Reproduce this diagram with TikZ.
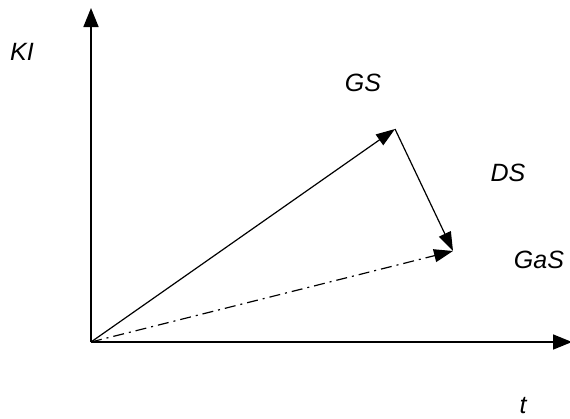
\documentclass[tikz,border=0pt]{standalone}
\usepackage{fontspec}
\setmainfont{Liberation Sans}
\usetikzlibrary{arrows.meta}
\tikzset{
  axis/.style={line width=1.6pt, -{Triangle[length=19pt, width=15pt]}},
  vec/.style={line width=1.2pt, -{Triangle[length=19pt, width=13pt]}},
  dvec/.style={vec, dash pattern=on 11pt off 5pt on 2pt off 5pt},
  lbl/.style={font=\fontsize{25}{30}\selectfont\itshape, inner sep=0pt},
}
\begin{document}
\begin{tikzpicture}[x=1pt, y=-1pt]
  \useasboundingbox (0,0) rectangle (570,418);
  % axes
  \coordinate (O) at (91,342);
  \coordinate (ytop) at (91,8);
  \coordinate (xend) at (572,342);
  \draw[axis] (O) -- (ytop);
  \draw[axis] (O) -- (xend);

  % vectors
  \coordinate (gs) at (395,129);
  \coordinate (gas) at (453,251);
  \draw[vec] (O) -- (gs);
  \draw[vec] (gs) -- (gas);
  \draw[dvec] (O) -- (gas);

  % labels
  \node[lbl] (ki) at (22,52) {KI};
  \node[lbl] (gslbl) at (363,83) {GS};
  \node[lbl] (dslbl) at (508,173) {DS};
  \node[lbl] (gaslbl) at (539,260) {GaS};
  \node[lbl] (tlbl) at (523,406) {t};
\end{tikzpicture}
\end{document}
